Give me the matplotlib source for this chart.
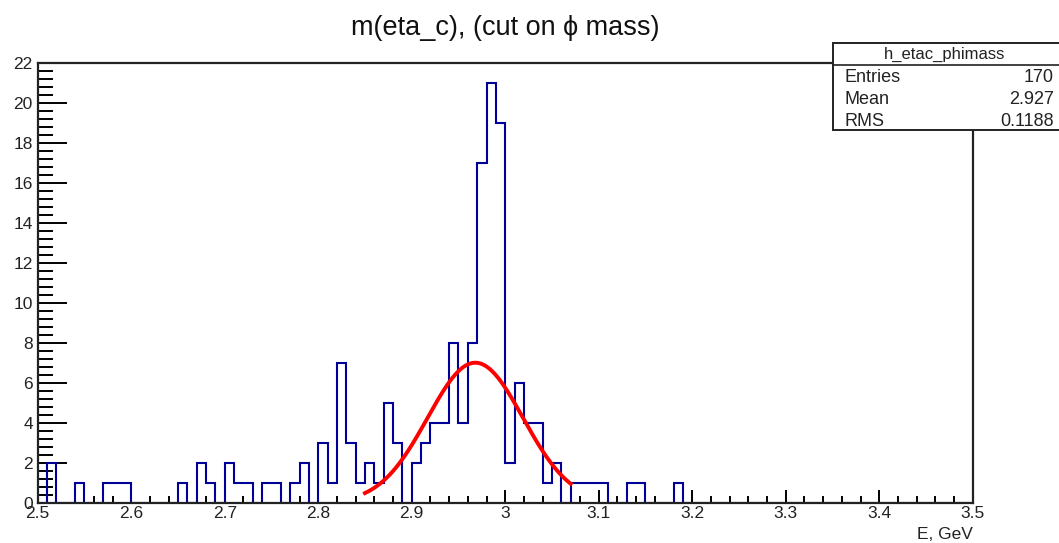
import numpy as np
import matplotlib
matplotlib.use('Agg')
import matplotlib.pyplot as plt
from matplotlib.patches import Rectangle
from matplotlib.lines import Line2D
from matplotlib.ticker import MultipleLocator

plt.rcParams['font.family'] = ['Liberation Sans', 'DejaVu Sans']

# ---- data ----
x_min, x_max, bin_width = 2.5, 3.5, 0.01
counts = [0, 2, 0, 0, 1, 0, 0, 1, 1, 1,        # 2.50-2.59
          0, 0, 0, 0, 0, 1, 0, 2, 1, 0,        # 2.60-2.69
          2, 1, 1, 0, 1, 1, 0, 1, 2, 0,        # 2.70-2.79
          3, 1, 7, 3, 1, 2, 1, 5, 3, 0,        # 2.80-2.89
          2, 3, 4, 4, 8, 4, 8, 17, 21, 19,     # 2.90-2.99
          2, 6, 4, 4, 1, 2, 0, 1, 1, 1,        # 3.00-3.09
          1, 0, 0, 1, 1, 0, 0, 0, 1, 0,        # 3.10-3.19
          0, 0, 0, 0, 0, 0, 0, 0, 0, 0,        # 3.20-3.29
          0, 0, 0, 0, 0, 0, 0, 0, 0, 0,        # 3.30-3.39
          0, 0, 0, 0, 0, 0, 0, 0, 0, 0]        # 3.40-3.49
# gaussian fit parameters
fit_amp, fit_mean, fit_sigma = 7.0, 2.968, 0.051
fit_lo, fit_hi = 2.85, 3.07

title = "m(eta_c), (cut on ϕ mass)"
xlabel = "E, GeV"
stats_name = "h_etac_phimass"
stats_rows = [("Entries", "170"), ("Mean", "2.927"), ("RMS", "0.1188")]

# ---- figure ----
W, H = 1059, 543
fig = plt.figure(figsize=(W / 100, H / 100), dpi=100)
ax_l, ax_r, ax_t, ax_b = 37.7, 972.7, 62.7, 502.7
ax = fig.add_axes([ax_l / W, 1 - ax_b / H, (ax_r - ax_l) / W, (ax_b - ax_t) / H])

edges = x_min + bin_width * np.arange(len(counts) + 1)
ax.stairs(counts, edges, color='#000099', lw=1.5, zorder=2)

xf = np.linspace(fit_lo, fit_hi, 200)
yf = fit_amp * np.exp(-0.5 * ((xf - fit_mean) / fit_sigma) ** 2)
ax.plot(xf, yf, color='#ff0000', lw=2.8, zorder=3)

ax.set_xlim(x_min, x_max)
ax.set_ylim(0, 22)
ax.xaxis.set_major_locator(MultipleLocator(0.1))
ax.xaxis.set_minor_locator(MultipleLocator(0.02))
ax.yaxis.set_major_locator(MultipleLocator(2))
ax.yaxis.set_minor_locator(MultipleLocator(0.4))
ax.xaxis.set_major_formatter(matplotlib.ticker.FuncFormatter(lambda v, p: f"{v:g}"))

ax.tick_params(axis='x', which='major', direction='in', length=9.5, width=1.4,
               labelsize=12.5, pad=2.5, top=False, labelcolor='#222222')
ax.tick_params(axis='x', which='minor', direction='in', length=5, width=1.4, top=False)
ax.tick_params(axis='y', which='major', direction='in', length=21, width=1.4,
               labelsize=12.5, pad=3.5, right=False, labelcolor='#222222')
ax.tick_params(axis='y', which='minor', direction='in', length=11, width=1.4, right=False)
for s in ax.spines.values():
    s.set_linewidth(1.6)
    s.set_color('#222222')

ax.set_xlabel(xlabel, fontsize=12.5, loc='right', labelpad=4, color='#222222')
fig.text(505 / W, 1 - 28 / H, title, ha='center', va='center', fontsize=19.5, color='#111111')

# stats box
bx0, by0, bx1, by1 = 833 / W, 1 - 130 / H, 1.01, 1 - 43.3 / H
fig.add_artist(Rectangle((bx0, by0), bx1 - bx0, by1 - by0, transform=fig.transFigure,
                         facecolor='white', edgecolor='#222222', lw=1.4, zorder=5))
fig.add_artist(Line2D([bx0, bx1], [1 - 65 / H, 1 - 65 / H], transform=fig.transFigure,
                      color='#222222', lw=1.2, zorder=6))
fig.text(945 / W, 1 - 54 / H, stats_name, ha='center', va='center', fontsize=12,
         zorder=7, color='#222222')
for i, (k, v) in enumerate(stats_rows):
    yy = 1 - (77 + 22 * i) / H
    fig.text(845 / W, yy, k, ha='left', va='center', fontsize=13, zorder=7, color='#222222')
    fig.text(1054 / W, yy, v, ha='right', va='center', fontsize=13, zorder=7, color='#222222')

fig.savefig('out.png', dpi=100)
